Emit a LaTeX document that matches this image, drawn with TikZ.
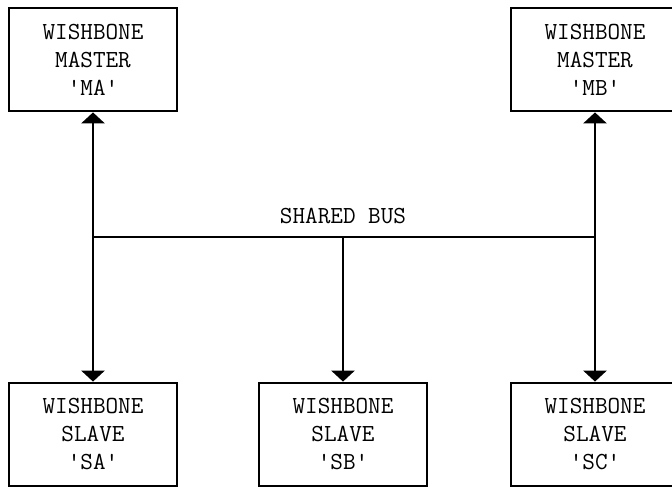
\documentclass[tikz,border=0pt]{standalone}
\usepackage{tikz}
\usetikzlibrary{arrows.meta}
\tikzset{
    wb-box/.style = {draw=black, fill=white, line width=2.8pt, rectangle, minimum width=168pt, minimum height=103pt, align=center, font=\ttfamily\fontsize{24.5}{28}\selectfont, inner sep=0pt},
    bus-line/.style = {line width=2.8pt},
    bus-arrow/.style = {line width=2.8pt, -{Triangle[width=23pt,length=11pt]}},
}

\begin{document}
\begin{tikzpicture}[x=1pt, y=-1pt]
\useasboundingbox (0,0) rectangle (672,487);
% masters
\node [wb-box] (ma) at (93,59.5) {WISHBONE\\MASTER\\'MA'};
\node [wb-box] (mb) at (595,59.5) {WISHBONE\\MASTER\\'MB'};
% slaves
\node [wb-box] (sa) at (93,434.5) {WISHBONE\\SLAVE\\'SA'};
\node [wb-box] (sb) at (343,434.5) {WISHBONE\\SLAVE\\'SB'};
\node [wb-box] (sc) at (595,434.5) {WISHBONE\\SLAVE\\'SC'};
% the bus
\coordinate (bus-a) at (93,237);
\coordinate (bus-b) at (343,237);
\coordinate (bus-c) at (595,237);
\draw [bus-line] (bus-a) -- (bus-c);
\node [font=\ttfamily\fontsize{24.5}{28}\selectfont] (bus-label) at (343,216) {SHARED BUS};
\draw [bus-arrow] (bus-a) -- (ma.south);
\draw [bus-arrow] (bus-c) -- (mb.south);
\draw [bus-arrow] (bus-a) -- (sa.north);
\draw [bus-arrow] (bus-b) -- (sb.north);
\draw [bus-arrow] (bus-c) -- (sc.north);
\end{tikzpicture}
\end{document}
